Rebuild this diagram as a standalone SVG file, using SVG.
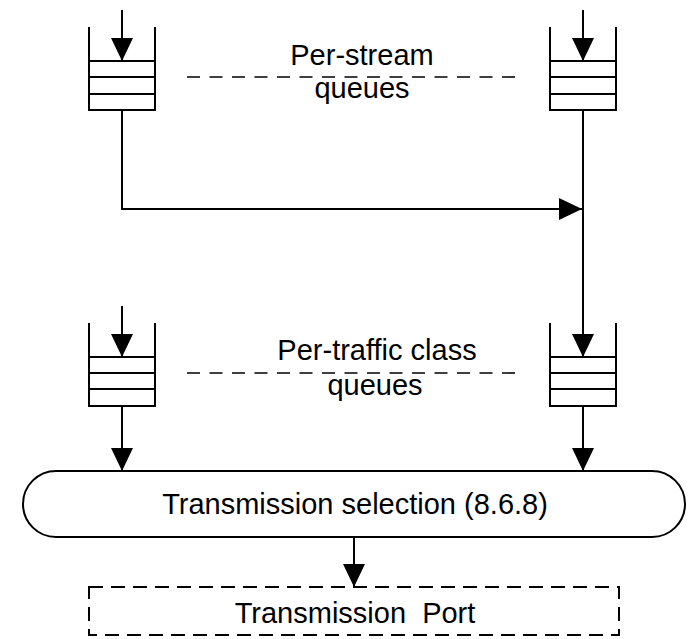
<svg xmlns="http://www.w3.org/2000/svg" width="693" height="639" viewBox="0 0 693 639">
  <style>
    .ln { fill: none; stroke: #000; stroke-width: 2; }
    .q { fill: #fff; stroke: #000; stroke-width: 2; }
    .dash { fill: none; stroke: #000; stroke-width: 1.6; stroke-dasharray: 13 9.5; }
    .lbl { font-family: "Liberation Sans", Arial, sans-serif; font-size: 29px; fill: #000; text-anchor: middle; }
  </style>
  <defs>
    <marker id="ah" markerUnits="userSpaceOnUse" markerWidth="23" markerHeight="22" refX="23" refY="11" orient="auto">
      <path d="M0,0 L23,11 L0,22 z" fill="#000"/>
    </marker>
  </defs>
  <rect width="693" height="639" fill="#fff"/>

  <g id="queue-stream-left">
    <path class="ln" d="M89,27 V110 H155 V27 M89,61 H155 M89,77 H155 M89,94 H155"/>
  </g>
  <g id="queue-stream-right">
    <path class="ln" d="M550,27 V110 H616 V27 M550,61 H616 M550,77 H616 M550,94 H616"/>
  </g>
  <g id="label-per-stream">
    <line class="dash" x1="187" y1="77" x2="517" y2="77"/>
    <text class="lbl" x="362" y="65">Per-stream</text>
    <text class="lbl" x="362" y="98">queues</text>
  </g>

  <g id="queue-class-left">
    <path class="ln" d="M89,323 V406 H155 V323 M89,357 H155 M89,373 H155 M89,389 H155"/>
  </g>
  <g id="queue-class-right">
    <path class="ln" d="M550,323 V406 H616 V323 M550,357 H616 M550,373 H616 M550,389 H616"/>
  </g>
  <g id="label-per-class">
    <line class="dash" x1="187" y1="373" x2="517" y2="373"/>
    <text class="lbl" x="377" y="360">Per-traffic class</text>
    <text class="lbl" x="375" y="395">queues</text>
  </g>

  <g id="transmission-selection">
    <rect class="q" x="23" y="471" width="662" height="66" rx="33" ry="33"/>
    <text class="lbl" x="355" y="514">Transmission selection (8.6.8)</text>
  </g>

  <g id="transmission-port">
    <rect fill="#fff" stroke="#000" stroke-width="2" stroke-dasharray="14 8" x="89" y="587" width="530" height="48"/>
    <text class="lbl" x="355" y="623" xml:space="preserve">Transmission  Port</text>
  </g>

  <g id="connectors">
    <line class="ln" x1="122" y1="10" x2="122" y2="61" marker-end="url(#ah)"/>
    <line class="ln" x1="583" y1="10" x2="583" y2="61" marker-end="url(#ah)"/>
    <polyline class="ln" points="122,110 122,209 582,209" marker-end="url(#ah)"/>
    <line class="ln" x1="583" y1="110" x2="583" y2="357" marker-end="url(#ah)"/>
    <line class="ln" x1="122" y1="306" x2="122" y2="357" marker-end="url(#ah)"/>
    <line class="ln" x1="122" y1="406" x2="122" y2="471" marker-end="url(#ah)"/>
    <line class="ln" x1="583" y1="406" x2="583" y2="471" marker-end="url(#ah)"/>
    <line class="ln" x1="354" y1="537" x2="354" y2="587" marker-end="url(#ah)"/>
  </g>
</svg>
